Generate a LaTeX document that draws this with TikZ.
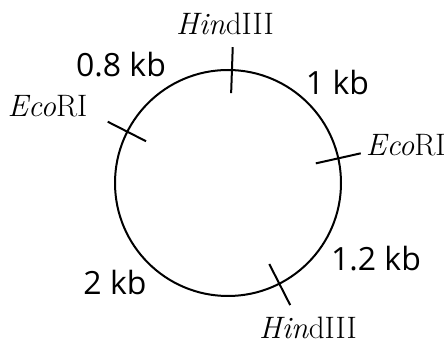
\documentclass[tikz,border=0pt]{standalone}
\usepackage{fontspec}
\usetikzlibrary{calc}
\newfontfamily\kbfont{Open Sans}
\begin{document}
\begin{tikzpicture}[x=1pt,y=1pt,
  ring/.style={draw, line width=2pt},
  cut/.style={draw, line width=2pt},
  kb/.style={font=\kbfont\fontsize{32}{32}\selectfont, anchor=base, inner sep=0pt},
  enz/.style={font=\fontsize{31}{31}\selectfont, anchor=base, inner sep=0pt}]
\useasboundingbox (0,0) rectangle (445,345);
\coordinate (c) at (228,162);
\draw[ring] (c) circle (113);
% cut sites
\coordinate (h1i) at ($(c)+(88:90)$);
\coordinate (h1o) at ($(c)+(88:136)$);
\coordinate (e1i) at ($(c)+(153:92)$);
\coordinate (e1o) at ($(c)+(153:135)$);
\coordinate (e2i) at ($(c)+(12.6:90)$);
\coordinate (e2o) at ($(c)+(12.6:136)$);
\coordinate (h2i) at ($(c)+(-63:91)$);
\coordinate (h2o) at ($(c)+(-63:137)$);
\draw[cut] (h1i) -- (h1o);
\draw[cut] (e1i) -- (e1o);
\draw[cut] (e2i) -- (e2o);
\draw[cut] (h2i) -- (h2o);
% enzyme labels
\node[enz] (lh1) at (225,310) {\textit{Hin}dIII};
\node[enz] (le1) at (47.5,228.3) {\textit{Eco}RI};
\node[enz] (le2) at (405.8,189) {\textit{Eco}RI};
\node[enz] (lh2) at (308,6) {\textit{Hin}dIII};
% size labels
\node[kb] (k1) at (121,268.3) {0.8 kb};
\node[kb] (k2) at (337.5,250) {1 kb};
\node[kb] (k3) at (376,74.3) {1.2 kb};
\node[kb] (k4) at (115,50) {2 kb};
\end{tikzpicture}
\end{document}
